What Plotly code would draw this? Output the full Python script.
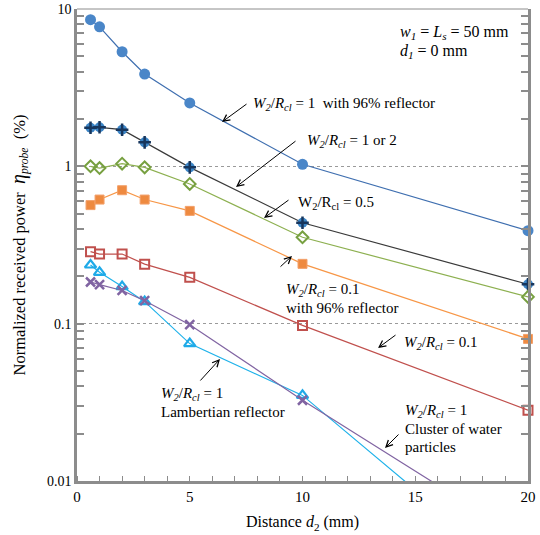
import plotly.graph_objects as go

# Distance d2 (mm)
d2 = [0.6, 1, 2, 3, 5, 10, 20]

# Normalized received power (%)
w1_refl96 = [8.55, 7.7, 5.35, 3.86, 2.53, 1.03, 0.39]
w1_or_2 = [1.76, 1.77, 1.71, 1.42, 0.985, 0.438, 0.178]
w05 = [1.0, 0.975, 1.04, 0.985, 0.773, 0.354, 0.148]
w01_refl96 = [0.567, 0.615, 0.705, 0.615, 0.521, 0.24, 0.08]
w01 = [0.287, 0.277, 0.277, 0.239, 0.197, 0.0975, 0.0282]
lambert = [0.236, 0.212, 0.172, 0.138, 0.0747, 0.035, 0.0022]
water = [0.184, 0.177, 0.1625, 0.14, 0.0985, 0.0326, 0.0041]

y_tickvals = [0.01, 0.1, 1, 10]
y_ticktext = ["0.01", "0.1", "1", "10"]
x_tickvals = [0, 5, 10, 15, 20]

FONT = "Liberation Serif"
AXC = "#8C8C8C"

fig = go.Figure()

def add(y, name, line_color, marker, clip=False):
    fig.add_trace(go.Scatter(x=d2, y=y, name=name, mode="lines+markers",
                             line=dict(color=line_color, width=1.2),
                             marker=marker, cliponaxis=clip))

add(w1_refl96, "W2/Rcl=1 with 96% reflector", "#3F6FB0",
    dict(symbol="circle", size=11, color="#4A86C8", line=dict(width=0)))
add(w1_or_2, "W2/Rcl=1 or 2", "#3A3A3A",
    dict(symbol="circle", size=10, color="#3C85C6", line=dict(width=0)))
fig.add_trace(go.Scatter(x=d2, y=w1_or_2, mode="markers", showlegend=False, cliponaxis=False,
                         marker=dict(symbol="cross-thin", size=9,
                                     line=dict(width=2.5, color="#17365D"))))
add(w05, "W2/Rcl=0.5", "#8DB050",
    dict(symbol="diamond-open", size=9, color="#77A040", line=dict(width=2)))
add(w01_refl96, "W2/Rcl=0.1 with 96% reflector", "#F79646",
    dict(symbol="square", size=9, color="#EE8A40",
         line=dict(width=1, color="#F3A06A")))
add(w01, "W2/Rcl=0.1", "#C0504D",
    dict(symbol="square-open", size=9, color="#C0504D", line=dict(width=2)))
add(lambert, "Lambertian", "#1FB2EA",
    dict(symbol="triangle-up-open", size=10, color="#1FAAE8", line=dict(width=2.2)), clip=True)
add(water, "Cluster of water particles", "#8064A2",
    dict(symbol="x-thin", size=9, color="#8064A2", line=dict(width=2.5, color="#8064A2")), clip=True)

# invisible trace carrying the minor-tick axis
fig.add_trace(go.Scatter(x=[d2[0]], y=[w05[0]], yaxis="y2", mode="markers",
                         marker=dict(opacity=0), hoverinfo="skip", showlegend=False))

fig.update_layout(
    width=540, height=535,
    margin=dict(l=77, r=12, t=9, b=54),
    paper_bgcolor="white", plot_bgcolor="white",
    showlegend=False,
    font=dict(family=FONT, size=15, color="black"),
    yaxis2=dict(type="log", range=[-2, 1], overlaying="y", side="left", dtick="D1",
                ticks="inside", ticklen=7, tickcolor=AXC, tickwidth=1.5,
                showticklabels=False, showgrid=False, zeroline=False,
                showline=False, mirror="ticks", automargin=False),
)

fig.update_xaxes(
    range=[0, 20], tickvals=x_tickvals, ticks="", showgrid=False, zeroline=False,
    showline=True, linecolor=AXC, linewidth=2.5, mirror=False, automargin=False,
    tickfont=dict(family=FONT, size=15),
    minor=dict(dtick=1, ticks="inside", ticklen=5, tickcolor=AXC, tickwidth=1, showgrid=False),
    title=dict(text="Distance <i>d</i><sub>2</sub> (mm)", font=dict(family=FONT, size=16), standoff=13),
)
fig.layout.yaxis.update(
    type="log", range=[-2, 1], tickvals=y_tickvals, ticktext=y_ticktext,
    ticks="inside", ticklen=7, tickcolor=AXC, tickwidth=1.5,
    showgrid=True, gridcolor="#9A9A9A", griddash="dot", gridwidth=1, zeroline=False,
    showline=True, linecolor=AXC, linewidth=2.5, mirror="ticks", automargin=False,
    tickfont=dict(family=FONT, size=14),
    title=dict(text="Normalized received power  <i><span style='font-size:20px'>η</span><sub>probe</sub></i>  (%)",
               font=dict(family=FONT, size=16.5), standoff=18),
)

# top border
fig.add_shape(type="line", xref="paper", yref="paper", x0=0, x1=1, y0=1, y1=1,
              line=dict(color=AXC, width=1))

# Pixel helpers for annotation placement
def px(xp):
    return (xp - 77) / 451.0

def py(yp):
    return (481 - yp) / 472.0

texts = [
    (398, 33, "<i>w</i><sub><i>1</i></sub> = <i>L</i><sub><i>s</i></sub> = 50 mm", 16),
    (398, 52, "<i>d</i><sub><i>1</i></sub> = 0 mm", 16),
    (251, 104, "<i>W</i><sub><i>2</i></sub>/<i>R</i><sub><i>cl</i></sub> = 1  with 96% reflector", 15),
    (305, 141, "<i>W</i><sub><i>2</i></sub>/<i>R</i><sub><i>cl</i></sub> = 1 or 2", 15),
    (296, 203, "W<sub>2</sub>/R<sub>cl</sub> = 0.5", 15),
    (284, 290, "<i>W</i><sub><i>2</i></sub>/<i>R</i><sub><i>cl</i></sub> = 0.1", 15),
    (284, 308, "with 96% reflector", 15),
    (402, 343, "<i>W</i><sub><i>2</i></sub>/<i>R</i><sub><i>cl</i></sub> = 0.1", 15),
    (403, 411, "<i>W</i><sub><i>2</i></sub>/<i>R</i><sub><i>cl</i></sub> = 1", 15),
    (403, 429, "Cluster of water", 15),
    (403, 447, "particles", 15),
    (159, 394, "<i>W</i><sub><i>2</i></sub>/<i>R</i><sub><i>cl</i></sub> = 1", 15),
    (159, 412, "Lambertian reflector", 15),
]
for x, y, t, s in texts:
    fig.add_annotation(x=px(x), y=py(y), xref="paper", yref="paper", text=t,
                       showarrow=False, xanchor="left", yanchor="middle",
                       font=dict(family=FONT, size=s, color="black"))

arrows = [
    (222, 122, 26, -19),
    (236, 187, 61, -47),
    (264, 218, 26, -19),
    (292, 256, -13, 12),
    (378, 348, 19, -14),
    (385, 448, 15, -15),
    (220, 359, -21, 23),
]
for hx, hy, ax, ay in arrows:
    fig.add_annotation(x=px(hx), y=py(hy), xref="paper", yref="paper", text="",
                       showarrow=True, arrowhead=5, arrowsize=1.3, arrowwidth=1,
                       arrowcolor="black", ax=ax, ay=ay, standoff=0)

fig.write_html("out.html", config={"displayModeBar": False},
               post_script="document.body.style.margin='0';")
